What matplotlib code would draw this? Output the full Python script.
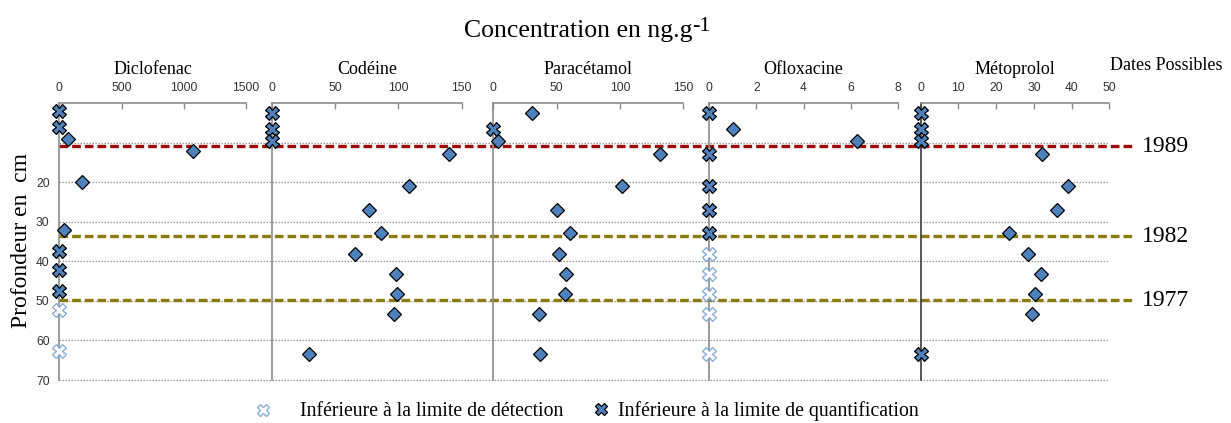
import matplotlib
matplotlib.use("Agg")
import matplotlib.pyplot as plt
import numpy as np

# ---- data -------------------------------------------------------------
drugs = ["Diclofenac", "Codéine", "Paracétamol", "Ofloxacine", "Métoprolol"]

depth_diclofenac = [1.8, 5.9, 9.0, 12.0, 20.0, 32.1, 37.3, 42.2, 47.4, 52.4, 62.7]
depth_common = [2.5, 6.6, 9.6, 12.8, 20.8, 26.9, 32.9, 38.1, 43.1, 48.2, 53.2, 63.3]

# concentration (ng/g); 0 where the sample is below a limit
conc_diclofenac = [0, 0, 72, 1077, 182, 35, 0, 0, 0, 0, 0]
conc_codeine = [0, 0, 0, 139.7, 108.3, 76.9, 85.9, 65.9, 97.8, 99.1, 96.7, 29.5]
conc_paracetamol = [30.3, 0, 4.0, 131.6, 102.0, 50.0, 60.8, 51.6, 57.6, 56.8, 35.8, 36.8]
conc_ofloxacine = [0, 1.02, 6.28, 0, 0, 0, 0, 0, 0, 0, 0, 0]
conc_metoprolol = [0, 0, 0, 32.2, 39.1, 36.1, 23.3, 28.5, 32.0, 30.3, 29.4, 0]

# "" = quantified, "LQ" = below quantification limit, "LD" = below detection limit
status_diclofenac = ["LQ", "LQ", "", "", "", "", "LQ", "LQ", "LQ", "LD", "LD"]
status_codeine = ["LQ", "LQ", "LQ", "", "", "", "", "", "", "", "", ""]
status_paracetamol = ["", "LQ", "", "", "", "", "", "", "", "", "", ""]
status_ofloxacine = ["LQ", "", "", "LQ", "LQ", "LQ", "LQ", "LD", "LD", "LD", "LD", "LD"]
status_metoprolol = ["LQ", "LQ", "LQ", "", "", "", "", "", "", "", "", "LQ"]

x_limits = [1500, 150, 150, 8, 50]
x_ticks = [[0, 500, 1000, 1500], [0, 50, 100, 150], [0, 50, 100, 150],
           [0, 2, 4, 6, 8], [0, 10, 20, 30, 40, 50]]

date_depths = [10.85, 33.6, 49.8]
date_labels = ["1989", "1982", "1977"]
date_colors = ["#9E0B0B", "#8A7A0F", "#8A7A0F"]

depth_ticks = [20, 30, 40, 50, 60, 70]
grid_depths = [10, 20, 30, 40, 50, 60, 70]

legend_labels = ["Inférieure à la limite de détection",
                 "Inférieure à la limite de quantification"]

series = [
    (depth_diclofenac, conc_diclofenac, status_diclofenac),
    (depth_common, conc_codeine, status_codeine),
    (depth_common, conc_paracetamol, status_paracetamol),
    (depth_common, conc_ofloxacine, status_ofloxacine),
    (depth_common, conc_metoprolol, status_metoprolol),
]

# ---- layout (pixel geometry of the figure) ----------------------------
W, H = 1231, 423
panel_left = [59.3, 272.0, 493.3, 709.3, 920.7]
panel_right = [246.0, 461.7, 683.3, 897.7, 1109.3]
y_top, y_bottom = 103.4, 380.0

SERIF = ["Liberation Serif", "DejaVu Serif"]
SANS = ["Liberation Sans", "DejaVu Sans"]

BLUE = "#4F81BD"
LD_EDGE = "#7FA8D8"
AXIS_GREY = "#8C8C8C"

diamond_style = dict(ls="none", marker="D", ms=7.0, mfc=BLUE, mec="black", mew=0.9)
lq_style = dict(ls="none", marker="X", ms=9.5, mfc=BLUE, mec="black", mew=0.9)
ld_style = dict(ls="none", marker="X", ms=9.5, mfc="white", mec=LD_EDGE, mew=0.9)

fig = plt.figure(figsize=(W / 100, H / 100), dpi=100)


def px_rect(x0, x1):
    return [x0 / W, 1 - y_bottom / H, (x1 - x0) / W, (y_bottom - y_top) / H]


# background layer: grid and date lines spanning all panels
bg = fig.add_axes([0, 1 - y_bottom / H, 1, (y_bottom - y_top) / H])
bg.set_xlim(0, W)
bg.set_ylim(70, 0)
bg.axis("off")
for d in grid_depths:
    bg.plot([panel_left[0], panel_right[-1]], [d, d], color="#9A9A9A",
            lw=0.9, ls=(0, (1.2, 1.2)), clip_on=False, zorder=1)
for d, lab, c in zip(date_depths, date_labels, date_colors):
    bg.plot([panel_left[0], 1135], [d, d], color=c, lw=2.4,
            ls=(0, (2.6, 1.2)), clip_on=False, zorder=2)
    bg.text(1142, d, lab, fontsize=17, family=SERIF, va="center", ha="left")

for i, (name, (dep, conc, stat)) in enumerate(zip(drugs, series)):
    ax = fig.add_axes(px_rect(panel_left[i], panel_right[i]))
    ax.patch.set_alpha(0)
    ax.set_xlim(0, x_limits[i])
    ax.set_ylim(70, 0)
    for s in ("right", "bottom"):
        ax.spines[s].set_visible(False)
    spine_col = "#3A3A3A" if i == 4 else AXIS_GREY
    ax.spines["left"].set_color(spine_col)
    ax.spines["top"].set_color(AXIS_GREY)
    ax.spines["left"].set_linewidth(1.2)
    ax.spines["top"].set_linewidth(1.2)
    ax.xaxis.tick_top()
    ax.set_xticks(x_ticks[i])
    ax.tick_params(axis="x", direction="in", length=4, width=1,
                   color=AXIS_GREY, pad=7, labelsize=8.7)
    for t in ax.get_xticklabels():
        t.set_family(SANS)
        t.set_color("#333333")
    if i == 0:
        ax.set_yticks(depth_ticks)
        ax.tick_params(axis="y", length=0, pad=7, labelsize=8.7)
        for t in ax.get_yticklabels():
            t.set_family(SANS)
            t.set_color("#333333")
    else:
        ax.set_yticks([])
    ax.set_title(name, fontsize=13, family=SERIF, pad=21)

    dep = np.asarray(dep)
    conc = np.asarray(conc, dtype=float)
    stat = np.asarray(stat)
    q = stat == ""
    lq = stat == "LQ"
    ld = stat == "LD"
    ax.plot(conc[q], dep[q], clip_on=False, zorder=5, **diamond_style)
    ax.plot(conc[lq], dep[lq], clip_on=False, zorder=5, **lq_style)
    ax.plot(conc[ld], dep[ld], clip_on=False, zorder=5, **ld_style)

# overlay in pixel coordinates for titles and the key
ov = fig.add_axes([0, 0, 1, 1])
ov.set_xlim(0, W)
ov.set_ylim(H, 0)
ov.axis("off")
ov.patch.set_alpha(0)

ov.text(692, 37, "Concentration en ng.g", fontsize=18.5, family=SERIF,
        ha="right", va="baseline")
ov.text(692, 31, "-1", fontsize=16, family=SERIF, ha="left", va="baseline")
ov.text(1166, 65, "Dates Possibles", fontsize=13, family=SERIF,
        ha="center", va="center")
ov.text(22, 240, "Profondeur en  cm", fontsize=17, family=SERIF,
        rotation=90, ha="center", va="center")

# key
ov.plot([263], [410], clip_on=False, **dict(ld_style, ms=8))
ov.text(300, 416, legend_labels[0], fontsize=14.2, family=SERIF,
        ha="left", va="baseline")
ov.plot([601], [409], clip_on=False, **dict(lq_style, ms=8))
ov.text(618, 416, legend_labels[1], fontsize=14.2, family=SERIF,
        ha="left", va="baseline")

fig.savefig("out.png", dpi=100)
